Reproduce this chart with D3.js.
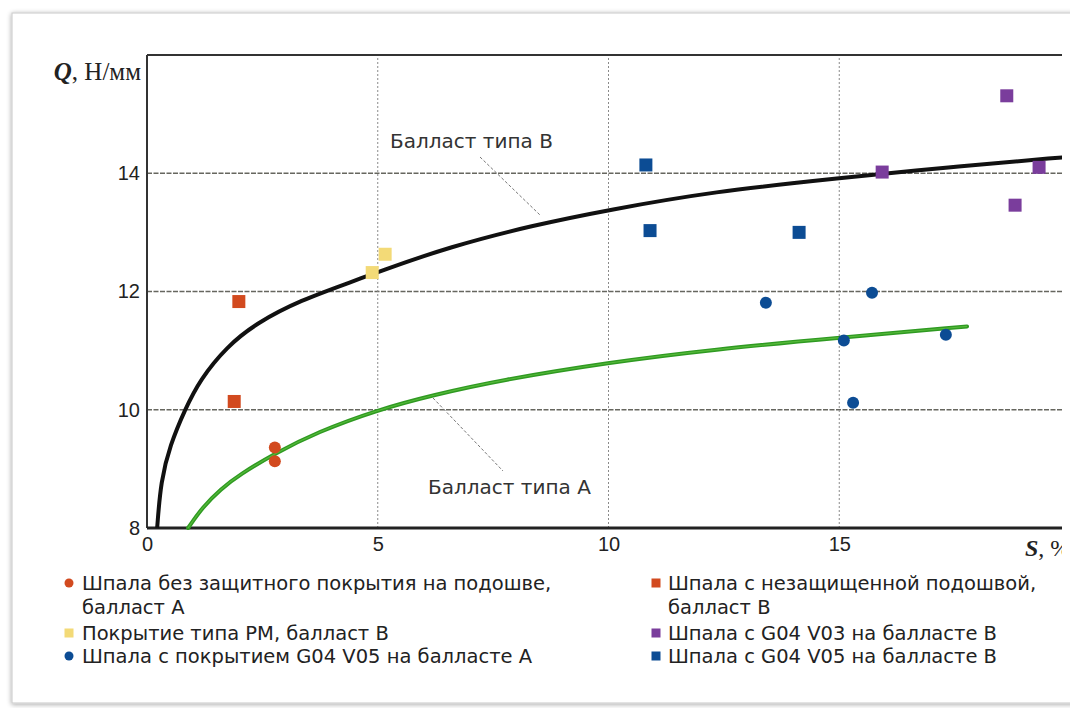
<!DOCTYPE html>
<html>
<head>
<meta charset="utf-8">
<script src="https://cdn.jsdelivr.net/npm/d3@7"></script>
<style>
  html, body { margin: 0; padding: 0; background: #ffffff; }
  svg { display: block; }
</style>
</head>
<body>
<svg id="chart" width="1070" height="708"></svg>
<script>
// Fitted trend curves, read as (S, Q) pairs
const curveB = [[0.22, 8.0], [0.3, 8.8], [0.5, 9.4], [0.82, 10.0], [1.15, 10.51], [1.73, 11.07],
  [2.38, 11.47], [3.32, 11.85], [4.46, 12.17], [5.0, 12.33], [6.57, 12.76], [8.36, 13.12],
  [10.0, 13.38], [12.26, 13.69], [15.02, 13.92], [17.33, 14.1], [19.83, 14.27], [20.5, 14.31]];
const curveA = [[0.89, 8.0], [1.2, 8.35], [1.6, 8.66], [2.0, 8.9], [2.77, 9.26], [3.68, 9.62], [5.0, 10.0],
  [6.2, 10.25], [7.65, 10.5], [10.0, 10.8], [12.26, 11.02], [15.02, 11.22], [17.77, 11.41]];

// Measured points per sleeper / ballast combination
const bareA   = [[2.77, 9.36], [2.77, 9.13]];
const bareB   = [[1.99, 11.83], [1.89, 10.14]];
const pmB     = [[4.88, 12.32], [5.16, 12.63]];
const v05A    = [[13.41, 11.81], [15.71, 11.98], [15.1, 11.17], [15.3, 10.12], [17.31, 11.27]];
const v03B    = [[18.63, 15.31], [15.93, 14.02], [19.33, 14.1], [18.81, 13.46]];
const v05B    = [[10.81, 14.14], [10.9, 13.03], [14.13, 13.0]];

const xTicks = [0, 5, 10, 15];
const yTicks = [8, 10, 12, 14];
const xGrid = [5, 10, 15];
const yGrid = [10, 12, 14];

const legendLeft = [
  { shape: "circle", color: "#d24a1f", lines: ["Шпала без защитного покрытия на подошве,", "балласт А"] },
  { shape: "square", color: "#f3da77", lines: ["Покрытие типа PM, балласт В"] },
  { shape: "circle", color: "#0c4c94", lines: ["Шпала с покрытием G04 V05 на балласте А"] }
];
const legendRight = [
  { shape: "square", color: "#d24a1f", lines: ["Шпала с незащищенной подошвой,", "балласт В"] },
  { shape: "square", color: "#7a3d9c", lines: ["Шпала с G04 V03 на балласте В"] },
  { shape: "square", color: "#0c4c94", lines: ["Шпала с G04 V05 на балласте В"] }
];

const svg = d3.select("#chart");
const sans = "DejaVu Sans, Verdana, sans-serif";
const serif = "Liberation Serif, Times New Roman, serif";

// Card background with soft shadow
const defs = svg.append("defs");
const f = defs.append("filter").attr("id", "shadow").attr("x", "-5%").attr("y", "-5%").attr("width", "110%").attr("height", "110%");
f.append("feGaussianBlur").attr("in", "SourceAlpha").attr("stdDeviation", 2.5);
f.append("feOffset").attr("dx", 0).attr("dy", 1).attr("result", "b");
f.append("feComponentTransfer").append("feFuncA").attr("type", "linear").attr("slope", 0.35);
const fm = f.append("feMerge");
fm.append("feMergeNode");
fm.append("feMergeNode").attr("in", "SourceGraphic");

defs.append("clipPath").attr("id", "view")
  .append("rect").attr("x", 0).attr("y", 0).attr("width", 1062).attr("height", 708);

svg.append("rect").attr("x", 12).attr("y", 13).attr("width", 1080).attr("height", 690)
  .attr("fill", "#ffffff").attr("stroke", "#d0d0d0").attr("stroke-width", 1.2)
  .attr("filter", "url(#shadow)");

const g = svg.append("g").attr("clip-path", "url(#view)");

const x = d3.scaleLinear().domain([0, 20]).range([147, 1070]);
const y = d3.scaleLinear().domain([8, 16]).range([528, 55]);

// Grid
g.append("g").selectAll("line").data(yGrid).join("line")
  .attr("x1", x(0)).attr("x2", x(20)).attr("y1", d => y(d)).attr("y2", d => y(d))
  .attr("stroke", "#66665f").attr("stroke-width", 1.3).attr("stroke-dasharray", "5,1.5");
g.append("g").selectAll("line").data(xGrid).join("line")
  .attr("x1", d => x(d)).attr("x2", d => x(d)).attr("y1", y(8)).attr("y2", y(16))
  .attr("stroke", "#8a8a8a").attr("stroke-width", 1).attr("stroke-dasharray", "2,2");

// Frame: top, left and bottom lines
g.append("line").attr("x1", x(0)).attr("x2", x(20)).attr("y1", y(16)).attr("y2", y(16))
  .attr("stroke", "#333").attr("stroke-width", 2);
g.append("line").attr("x1", x(0)).attr("x2", x(0)).attr("y1", y(16)).attr("y2", y(8))
  .attr("stroke", "#333").attr("stroke-width", 2);
g.append("line").attr("x1", x(0)).attr("x2", x(20)).attr("y1", y(8)).attr("y2", y(8))
  .attr("stroke", "#222").attr("stroke-width", 3);

// Axis tick labels
const yAxis = d3.axisLeft(y).tickValues(yTicks).tickSize(0).tickPadding(7);
const ya = g.append("g").attr("transform", `translate(${x(0)},0)`).call(yAxis);
ya.select(".domain").remove();
ya.selectAll("text").attr("font-family", "Liberation Sans, Arial, sans-serif").attr("font-size", 20).attr("fill", "#222");

const xAxis = d3.axisBottom(x).tickValues(xTicks).tickSize(0).tickPadding(9);
const xa = g.append("g").attr("transform", `translate(0,${y(8)})`).call(xAxis);
xa.select(".domain").remove();
xa.selectAll("text").attr("font-family", "Liberation Sans, Arial, sans-serif").attr("font-size", 20).attr("fill", "#222");

// Axis titles
const qt = g.append("text").attr("x", 141).attr("y", 80).attr("text-anchor", "end")
  .attr("font-family", serif).attr("font-size", 25).attr("fill", "#222");
qt.append("tspan").attr("font-style", "italic").attr("font-weight", "bold").text("Q");
qt.append("tspan").text(", Н/мм");
const st = g.append("text").attr("x", 1025).attr("y", 556)
  .attr("font-family", serif).attr("font-size", 24).attr("fill", "#222");
st.append("tspan").attr("font-style", "italic").attr("font-weight", "bold").text("S");
st.append("tspan").text(", %");

// Trend curves
const line = d3.line().x(d => x(d[0])).y(d => y(d[1])).curve(d3.curveBasis);
g.append("path").datum(curveA).attr("d", line).attr("fill", "none")
  .attr("stroke", "#2f9a22").attr("stroke-width", 4).attr("stroke-linecap", "round");
g.append("path").datum(curveA).attr("d", line).attr("fill", "none")
  .attr("stroke", "#6fcf4a").attr("stroke-width", 1.2).attr("opacity", 0.6);
g.append("path").datum(curveB).attr("d", line).attr("fill", "none")
  .attr("stroke", "#111").attr("stroke-width", 4);

// Curve annotations
g.append("line").attr("x1", 480).attr("y1", 157).attr("x2", 540).attr("y2", 215)
  .attr("stroke", "#777").attr("stroke-width", 1).attr("stroke-dasharray", "3,2");
g.append("text").attr("x", 390).attr("y", 148).attr("font-family", sans).attr("font-size", 20)
  .attr("fill", "#333").text("Балласт типа В");
g.append("line").attr("x1", 433).attr("y1", 398).attr("x2", 503).attr("y2", 471)
  .attr("stroke", "#777").attr("stroke-width", 1).attr("stroke-dasharray", "3,2");
g.append("text").attr("x", 428).attr("y", 494).attr("font-family", sans).attr("font-size", 20)
  .attr("fill", "#333").text("Балласт типа А");

// Markers
function squares(data, color) {
  g.append("g").selectAll("rect").data(data).join("rect")
    .attr("x", d => x(d[0]) - 6.5).attr("y", d => y(d[1]) - 6.5)
    .attr("width", 13).attr("height", 13).attr("fill", color);
}
function circles(data, color) {
  g.append("g").selectAll("circle").data(data).join("circle")
    .attr("cx", d => x(d[0])).attr("cy", d => y(d[1])).attr("r", 6).attr("fill", color);
}
circles(bareA, "#d24a1f");
squares(bareB, "#d24a1f");
squares(pmB, "#f3da77");
circles(v05A, "#0c4c94");
squares(v03B, "#7a3d9c");
squares(v05B, "#0c4c94");

// Legend
function legend(items, mx, tx) {
  const rows = [583, 633, 656];
  items.forEach((it, i) => {
    const ry = rows[i];
    if (it.shape === "circle") {
      g.append("circle").attr("cx", mx).attr("cy", ry).attr("r", 4.5).attr("fill", it.color);
    } else {
      g.append("rect").attr("x", mx - 4.5).attr("y", ry - 4.5).attr("width", 9).attr("height", 9).attr("fill", it.color);
    }
    it.lines.forEach((t, j) => {
      g.append("text").attr("x", tx).attr("y", ry + 7 + j * 24)
        .attr("font-family", sans).attr("font-size", 19.5).attr("fill", "#222").text(t);
    });
  });
}
legend(legendLeft, 69, 82);
legend(legendRight, 656, 668);
</script>
</body>
</html>
